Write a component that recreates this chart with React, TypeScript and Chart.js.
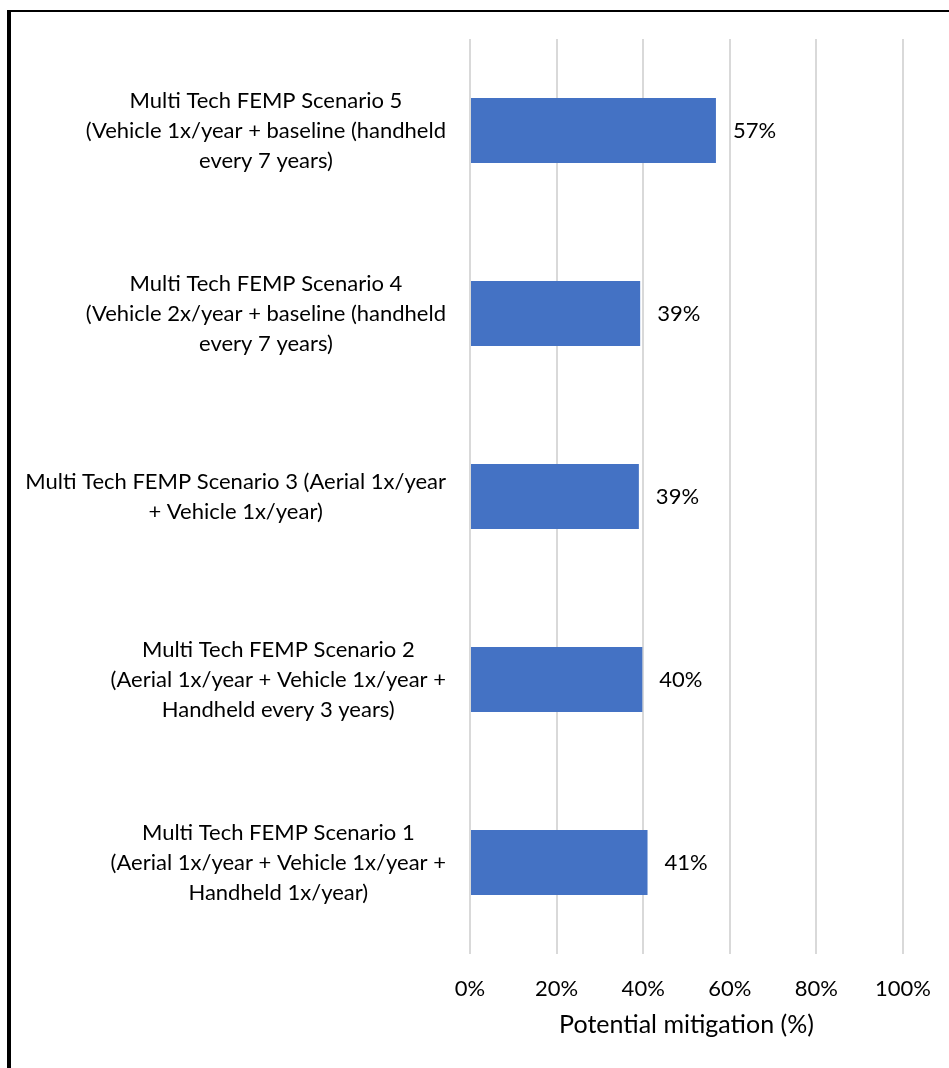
import React, { useEffect, useRef } from 'react';
import { Chart, registerables } from 'chart.js';

Chart.register(...registerables);

// Categories, top to bottom, each split into the lines shown in the reference
const categoryLines: string[][] = [
  ['Multi Tech FEMP Scenario 5', '(Vehicle 1x/year + baseline (handheld', 'every 7 years)'],
  ['Multi Tech FEMP Scenario 4', '(Vehicle 2x/year + baseline (handheld', 'every 7 years)'],
  ['Multi Tech FEMP Scenario 3 (Aerial 1x/year', '+ Vehicle 1x/year)'],
  ['Multi Tech FEMP Scenario 2', '(Aerial 1x/year + Vehicle 1x/year +', 'Handheld every 3 years)'],
  ['Multi Tech FEMP Scenario 1', '(Aerial 1x/year + Vehicle 1x/year +', 'Handheld 1x/year)'],
];

// Potential mitigation (%)
const mitigation: number[] = [56.8, 39.3, 39.0, 39.8, 41.0];

const xMin = 0;
const xMax = 100;
const xStep = 20;
const axisTitle = 'Potential mitigation (%)';

const FONT = 'Lato, "Liberation Sans", sans-serif';
const FONT_SIZE = 22;
const LINE_H = 30;
const BAR_COLOR = '#4472C4';
const GRID_COLOR = '#D9D9D9';

const framePlugin = {
  id: 'frame',
  afterDraw(chart: any) {
    const ctx = chart.ctx;
    ctx.save();
    ctx.fillStyle = '#000';
    ctx.fillRect(7, 10, 4, chart.height - 10);
    ctx.fillRect(7, 10, chart.width - 7, 2);
    ctx.restore();
  },
};

const yLabelPlugin = {
  id: 'yLabels',
  afterDraw(chart: any) {
    const ctx = chart.ctx;
    const ys = chart.scales.y;
    const rightEdge = chart.chartArea.left - 24;
    ctx.save();
    ctx.font = `${FONT_SIZE}px ${FONT}`;
    ctx.fillStyle = '#000';
    ctx.textAlign = 'center';
    ctx.textBaseline = 'middle';
    categoryLines.forEach((lines, i) => {
      const yc = ys.getPixelForTick(i);
      const w = Math.max(...lines.map((l) => ctx.measureText(l).width));
      const cx = rightEdge - w / 2;
      const y0 = yc - ((lines.length - 1) / 2) * LINE_H;
      lines.forEach((l, j) => ctx.fillText(l, cx, y0 + j * LINE_H));
    });
    ctx.restore();
  },
};

const dataLabelPlugin = {
  id: 'dataLabels',
  afterDatasetsDraw(chart: any) {
    const ctx = chart.ctx;
    const meta = chart.getDatasetMeta(0);
    ctx.save();
    ctx.font = `${FONT_SIZE}px ${FONT}`;
    ctx.fillStyle = '#000';
    ctx.textAlign = 'left';
    ctx.textBaseline = 'middle';
    meta.data.forEach((bar: any, i: number) => {
      ctx.fillText(Math.round(mitigation[i]) + '%', bar.x + 17, bar.y);
    });
    ctx.restore();
  },
};

export default function App() {
  const ref = useRef<HTMLCanvasElement | null>(null);

  useEffect(() => {
    document.body.style.overflow = 'hidden';
    const canvas = ref.current;
    if (!canvas) return;
    const chart = new Chart(canvas, {
      type: 'bar',
      data: {
        labels: categoryLines.map((l) => l.join(' ')),
        datasets: [
          {
            data: mitigation,
            backgroundColor: BAR_COLOR,
            borderWidth: 0,
            barPercentage: 0.355,
            categoryPercentage: 1,
          },
        ],
      },
      options: {
        indexAxis: 'y',
        responsive: false,
        animation: false,
        layout: { padding: { top: 39, right: 46, bottom: 0, left: 0 } },
        plugins: {
          legend: { display: false },
          tooltip: { enabled: false },
        },
        scales: {
          x: {
            min: xMin,
            max: xMax,
            ticks: {
              stepSize: xStep,
              color: '#000',
              padding: 22,
              font: { family: FONT, size: FONT_SIZE },
              callback: (v: any) => v + '%',
            },
            grid: { color: GRID_COLOR, lineWidth: 2, drawTicks: false },
            border: { display: false },
            title: {
              display: true,
              text: axisTitle,
              color: '#000',
              font: { family: FONT, size: 25 },
              padding: { top: 0, bottom: 28 },
            },
            afterFit: (s: any) => {
              s.height = 114;
              s.paddingLeft = 0;
              s.paddingRight = 0;
            },
          },
          y: {
            ticks: { display: false },
            grid: { display: false },
            border: { display: false },
            afterFit: (s: any) => {
              s.width = 470;
            },
          },
        },
      },
      plugins: [framePlugin, yLabelPlugin, dataLabelPlugin],
    });
    return () => chart.destroy();
  }, []);

  return (
    <div style={{ position: 'absolute', left: 0, top: 0, width: 949, height: 1068, background: '#fff' }}>
      <canvas ref={ref} width={949} height={1068} style={{ display: 'block' }} />
    </div>
  );
}
